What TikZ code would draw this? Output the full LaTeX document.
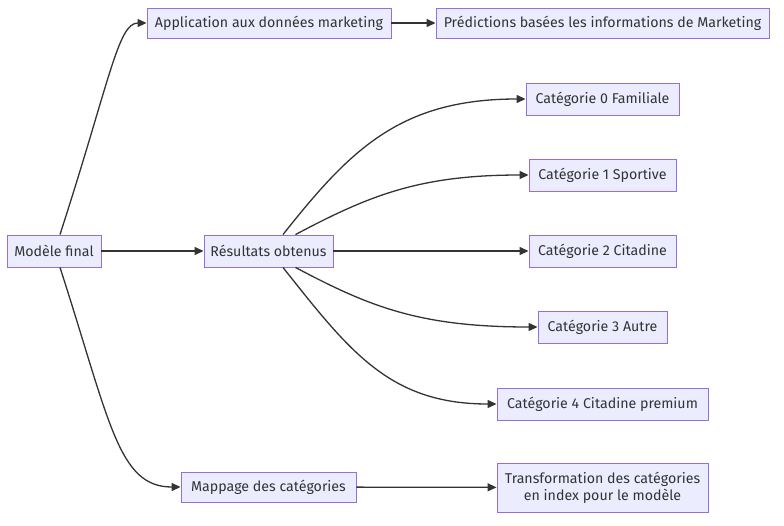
\documentclass[tikz,border=0pt]{standalone}
\usepackage{fontspec}
\setmainfont{Fira Sans}
\usetikzlibrary{arrows.meta}
\definecolor{boxfill}{HTML}{ECECFF}
\definecolor{boxline}{HTML}{9370DB}
\definecolor{ink}{HTML}{333333}
\tikzset{
  box/.style={draw=boxline, fill=boxfill, text=ink, line width=0.9pt,
    minimum height=32pt, inner xsep=6pt, font=\fontsize{14.2}{17}\selectfont, align=center},
  link/.style={draw=ink, line width=1.3pt, -{Triangle[length=9pt,width=8pt]}}
}
\begin{document}
\begin{tikzpicture}[x=1pt,y=-1pt]
  \useasboundingbox (0,0) rectangle (784,525);
  % noeuds
  \node[box, minimum width=94pt] (final) at (54,251) {Modèle final};
  \node[box, minimum width=129pt] (res) at (268.5,251) {Résultats obtenus};
  \node[box, minimum width=244pt, minimum height=30pt] (app) at (269,23) {Application aux données marketing};
  \node[box, minimum width=333pt, minimum height=30pt] (pred) at (602.5,23) {Prédictions basées les informations de Marketing};
  \node[box, minimum width=153pt] (cat0) at (602.5,99) {Catégorie 0 Familiale};
  \node[box, minimum width=147pt] (cat1) at (602.5,175) {Catégorie 1 Sportive};
  \node[box, minimum width=147pt] (cat2) at (602.5,251) {Catégorie 2 Citadine};
  \node[box, minimum width=129pt] (cat3) at (602.5,327) {Catégorie 3 Autre};
  \node[box, minimum width=211pt] (cat4) at (602.5,404) {Catégorie 4 Citadine premium};
  \node[box, minimum width=175pt, minimum height=30pt] (map) at (268.5,487) {Mappage des catégories};
  \node[box, minimum width=211pt, minimum height=49pt] (trans) at (602.5,487.5) {Transformation des catégories\\en index pour le modèle};
  % liens
  \draw[link] ([xshift=6pt]final.north) .. controls (110,80) and (118,23) .. (app.west);
  \draw[link] (final) -- (res);
  \draw[link] ([xshift=6pt]final.south) .. controls (110,422) and (118,487) .. (map.west);
  \draw[link] (app) -- (pred);
  \draw[link] (map) -- (trans);
  \draw[link] ([xshift=14.5pt]res.north) .. controls (350,150) and (400,99) .. (cat0.west);
  \draw[link] ([xshift=27pt]res.north) .. controls (370,195) and (420,175) .. (cat1.west);
  \draw[link] (res) -- (cat2);
  \draw[link] ([xshift=27pt]res.south) .. controls (370,307) and (420,327) .. (cat3.west);
  \draw[link] ([xshift=14.5pt]res.south) .. controls (350,352) and (390,404) .. (cat4.west);
\end{tikzpicture}
\end{document}
